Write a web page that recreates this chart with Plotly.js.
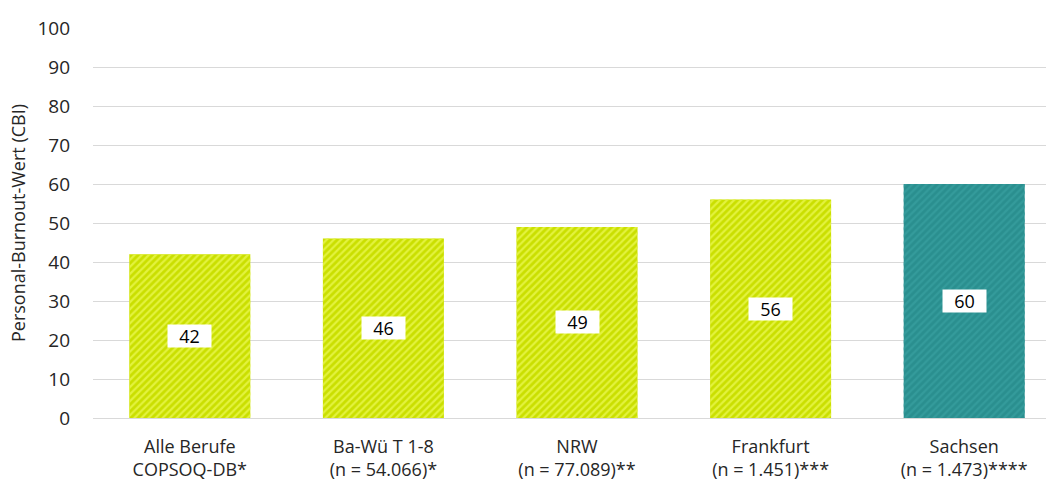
<!DOCTYPE html>
<html>
<head>
<meta charset="utf-8">
<script src="https://cdn.plot.ly/plotly-3.0.1.min.js"></script>
<style>html,body{margin:0;padding:0;background:#fff;}#chart{width:1046px;height:484px;}</style>
</head>
<body>
<div id="chart"></div>
<script>
const categories = ["Alle Berufe<br>COPSOQ-DB*", "Ba-Wü T 1-8<br>(n = 54.066)*", "NRW<br>(n = 77.089)**", "Frankfurt<br>(n = 1.451)***", "Sachsen<br>(n = 1.473)****"];
const values = [42, 46, 49, 56, 60];
const bgColors = ["#cadf00", "#cadf00", "#cadf00", "#cadf00", "#2a8f8f"];
const fgColors = ["#e3f23e", "#e3f23e", "#e3f23e", "#e3f23e", "#349b9b"];
const yTicks = [0, 10, 20, 30, 40, 50, 60, 70, 80, 90, 100];

const font = "'Open Sans', sans-serif";

const baseTrace = {
  type: 'bar',
  x: categories,
  y: values,
  width: 0.625,
  marker: {color: bgColors, line: {width: 0}},
  hoverinfo: 'none'
};

const stripeTrace = {
  type: 'bar',
  x: categories,
  y: values,
  width: 0.625,
  marker: {
    color: 'rgba(0,0,0,0)',
    line: {width: 0},
    pattern: {shape: '/', fgcolor: fgColors, bgcolor: 'rgba(0,0,0,0)', size: 5, solidity: 0.45, fillmode: 'replace'}
  },
  hoverinfo: 'none'
};

const annotations = values.map((v, i) => ({
  x: categories[i], y: v / 2, xref: 'x', yref: 'y',
  text: String(v), showarrow: false,
  bgcolor: '#ffffff', borderpad: 0, width: 43, height: 22,
  font: {family: font, size: 18, color: '#000'}
}));

const layout = {
  width: 1046, height: 484,
  margin: {l: 93, r: 0, t: 28, b: 65.5},
  paper_bgcolor: '#fff', plot_bgcolor: '#fff',
  showlegend: false,
  barmode: 'overlay',
  xaxis: {
    type: 'category',
    range: [-0.5, 4.4225],
    showgrid: false, zeroline: false,
    showline: true, linecolor: '#d9d9d9', linewidth: 1,
    ticks: '', ticklabelstandoff: 12,
    tickfont: {family: font, size: 18, color: '#262626'}
  },
  yaxis: {
    range: [0, 100],
    tickvals: yTicks,
    showgrid: true, gridcolor: '#d9d9d9', gridwidth: 1,
    zeroline: false, showline: false,
    ticks: '', ticklabelstandoff: 22,
    tickfont: {family: font, size: 19, color: '#262626'},
    title: {text: 'Personal-Burnout-Wert (CBI)', font: {family: font, size: 18, color: '#262626'}, standoff: 7}
  },
  annotations: annotations
};

Plotly.newPlot('chart', [baseTrace, stripeTrace], layout, {displayModeBar: false, staticPlot: true});
</script>
</body>
</html>
